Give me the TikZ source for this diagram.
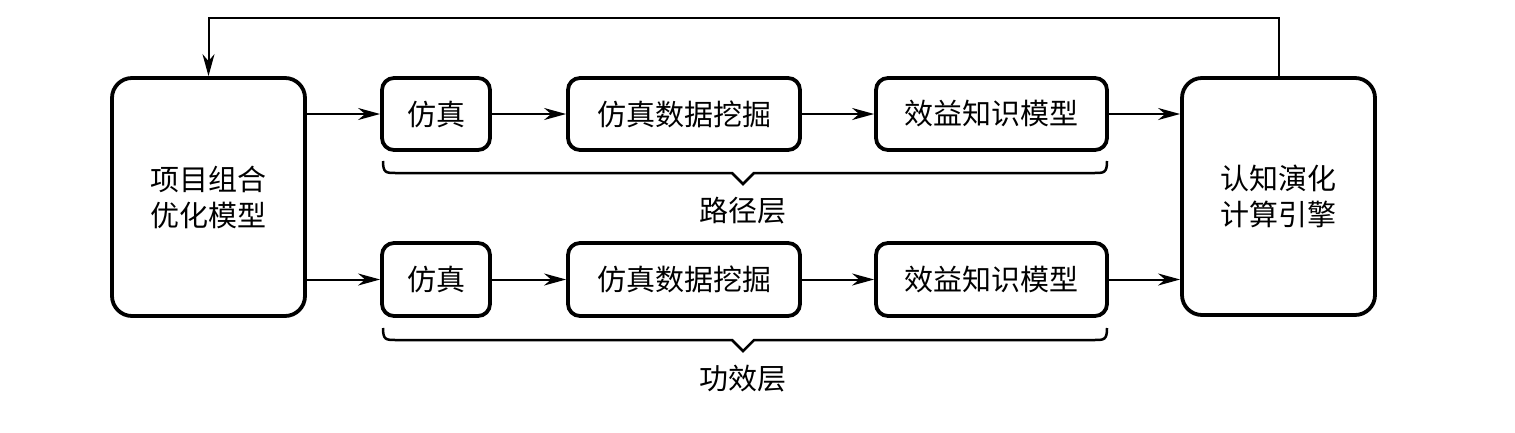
\documentclass[tikz,border=0pt]{standalone}
\usepackage{fontspec}
\newfontfamily\cjk{Noto Sans CJK SC}
\usetikzlibrary{arrows.meta}
\tikzset{
  bigbox/.style={draw, line width=3.8pt, rounded corners=20pt, minimum width=193pt, minimum height=238pt, align=center, inner sep=0pt, font=\cjk\fontsize{29}{36}\selectfont},
  smallbox/.style={draw, line width=3.8pt, rounded corners=12pt, minimum height=72pt, inner sep=0pt, font=\cjk\fontsize{29}{34}\selectfont},
  arr/.style={line width=2pt, -{Stealth[length=22pt,width=12pt,inset=7pt]}},
  brace/.style={line width=2.5pt, line join=miter},
  layerlabel/.style={font=\cjk\fontsize{29}{34}\selectfont, inner sep=0pt}
}
\begin{document}
\begin{tikzpicture}[x=1pt,y=-1pt]
\useasboundingbox (0,0) rectangle (1515,432);
% main boxes
\node[bigbox] (L) at (208.5,197) {项目组合\\优化模型};
\node[bigbox, minimum height=237pt] (R) at (1278.5,196.5) {认知演化\\计算引擎};
% row 1
\node[smallbox, minimum width=108pt] (a1) at (436,114) {仿真};
\node[smallbox, minimum width=232pt] (b1) at (684,114) {仿真数据挖掘};
\node[smallbox, minimum width=231pt] (c1) at (991.5,114) {效益知识模型};
% row 2
\node[smallbox, minimum width=108pt, minimum height=73pt] (a2) at (436,279.5) {仿真};
\node[smallbox, minimum width=232pt, minimum height=73pt] (b2) at (684,279.5) {仿真数据挖掘};
\node[smallbox, minimum width=231pt, minimum height=73pt] (c2) at (991.5,279.5) {效益知识模型};
% arrows row 1
\draw[arr] (L.east |- a1) -- (a1.west);
\draw[arr] (a1.east) -- (b1.west);
\draw[arr] (b1.east) -- (c1.west);
\draw[arr] (c1.east) -- (R.west |- c1);
% arrows row 2
\draw[arr] (L.east |- a2) -- (a2.west);
\draw[arr] (a2.east) -- (b2.west);
\draw[arr] (b2.east) -- (c2.west);
\draw[arr] (c2.east) -- (R.west |- c2);
% feedback
\coordinate (fbR) at (1278.5,18);
\coordinate (fbL) at (208.5,18);
\draw[arr] (R.north) -- (fbR) -- (fbL) -- (L.north);
% braces
\coordinate (t1) at (743,184);
\draw[brace] (383,161) .. controls (383,173) and (386,173) .. (396,173) -- (732,173) -- (t1) -- (754,173) -- (1094,173) .. controls (1104,173) and (1107,173) .. (1107,161);
\node[layerlabel] (p1) at (743,211) {路径层};
\coordinate (t2) at (743,351);
\draw[brace] (383,328) .. controls (383,340) and (386,340) .. (396,340) -- (732,340) -- (t2) -- (754,340) -- (1094,340) .. controls (1104,340) and (1107,340) .. (1107,328);
\node[layerlabel] (p2) at (743,379) {功效层};
\end{tikzpicture}
\end{document}
